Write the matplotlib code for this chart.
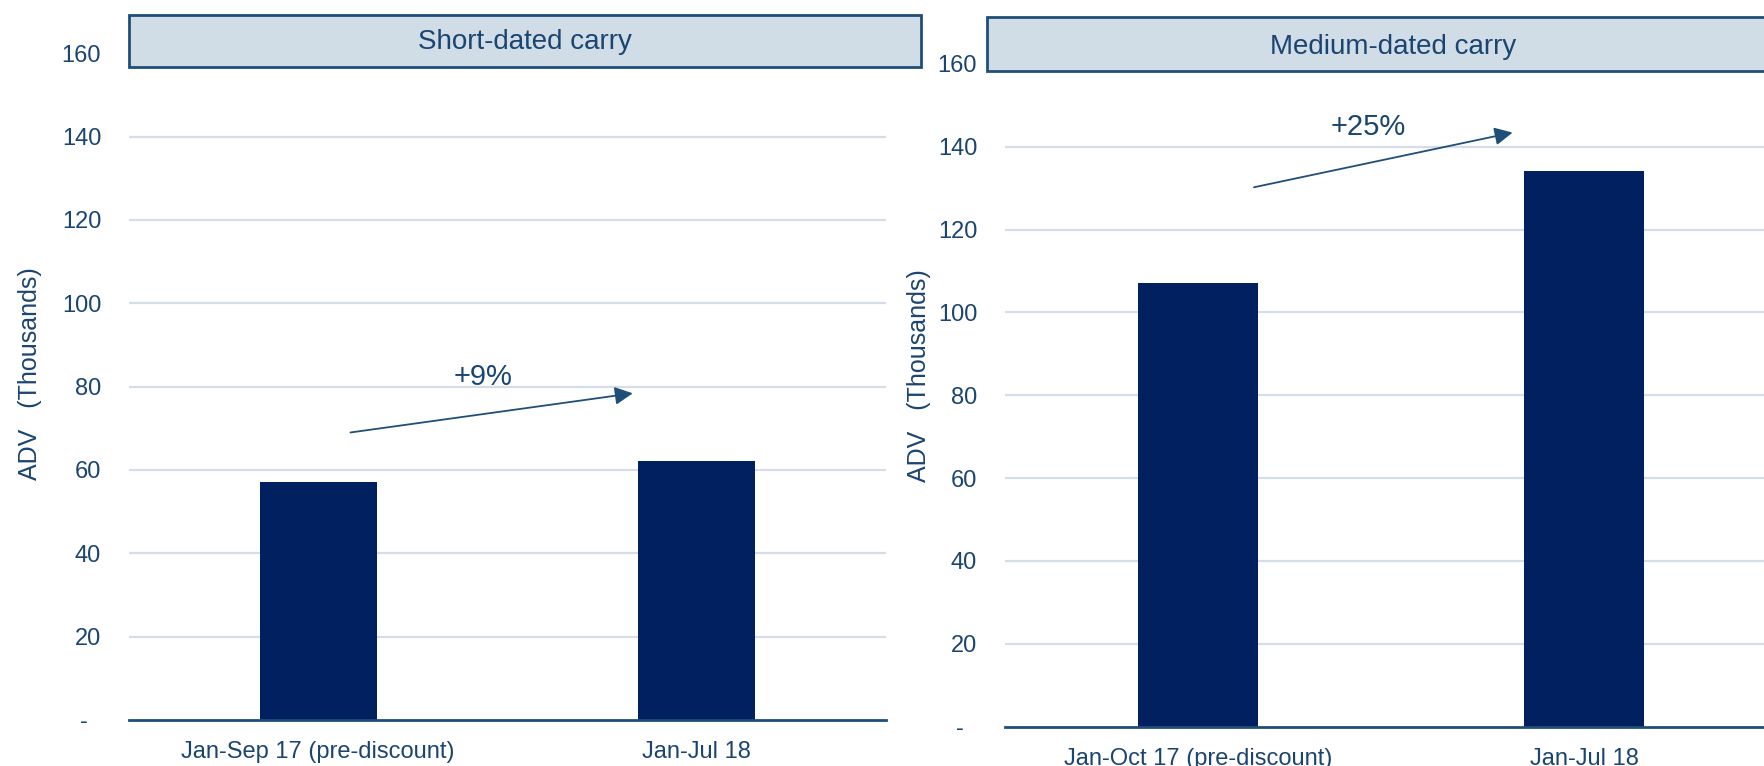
"""
Two-panel ADV comparison: short-dated vs medium-dated carry.
"""

import matplotlib

matplotlib.use("Agg")
import matplotlib.pyplot as plt
from matplotlib.patches import Rectangle

# data
SHORT_CATEGORIES = ["Jan-Sep 17 (pre-discount)", "Jan-Jul 18"]
SHORT_ADV = [57.2, 62.2]
SHORT_CHANGE = "+9%"

MEDIUM_CATEGORIES = ["Jan-Oct 17 (pre-discount)", "Jan-Jul 18"]
MEDIUM_ADV = [107.0, 134.2]
MEDIUM_CHANGE = "+25%"

Y_TICKS = [0, 20, 40, 60, 80, 100, 120, 140, 160]
Y_TICK_LABELS = ["-  ", "20", "40", "60", "80", "100", "120", "140", "160"]

# style
BAR_COLOR = "#002060"
TEXT_COLOR = "#1B4571"
GRID_COLOR = "#D5DEE8"
BOX_FILL = "#D0DCE6"
BOX_EDGE = "#1F4E79"
FONT = ["Liberation Sans", "DejaVu Sans"]

plt.rcParams["font.family"] = FONT

W, H = 1765, 766
fig = plt.figure(figsize=(W / 100, H / 100), dpi=100)


def px_box(left, right, top, bottom):
    """Convert pixel box (from top-left) to figure fraction rect."""
    return [left / W, (H - bottom) / H, (right - left) / W, (bottom - top) / H]


def draw_panel(ax, categories, values, label_xy):
    x = list(range(len(categories)))
    ax.bar(x, values, width=0.31, color=BAR_COLOR, zorder=3)
    ax.set_xlim(-0.5, 1.5)
    ax.set_ylim(0, 160)
    ax.set_yticks(Y_TICKS)
    ax.set_yticklabels(Y_TICK_LABELS)
    ax.set_xticks(x)
    ax.set_xticklabels(categories)
    for yv in Y_TICKS[1:-1]:
        ax.axhline(yv, color=GRID_COLOR, lw=1.6, zorder=1)
    for side in ["top", "right", "left"]:
        ax.spines[side].set_visible(False)
    ax.spines["bottom"].set_color(BOX_EDGE)
    ax.spines["bottom"].set_linewidth(2.0)
    ax.spines["bottom"].set_zorder(4)
    ax.tick_params(axis="y", length=0, pad=20, labelsize=17, labelcolor=TEXT_COLOR)
    ax.tick_params(axis="x", length=0, pad=15, labelsize=17, labelcolor=TEXT_COLOR)
    ax.set_ylabel("ADV   (Thousands)", fontsize=18, color=TEXT_COLOR)
    ax.yaxis.set_label_coords(*label_xy)


def draw_title_box(rect, label, text_xy):
    fig.patches.append(
        Rectangle(
            (rect[0], rect[1]), rect[2], rect[3],
            transform=fig.transFigure, facecolor=BOX_FILL,
            edgecolor=BOX_EDGE, linewidth=2.0, zorder=5,
        )
    )
    fig.text(text_xy[0] / W, 1 - text_xy[1] / H, label, ha="center", va="center",
             fontsize=20, color=TEXT_COLOR, zorder=6)


def draw_change(ax, start, end, text_pos, label):
    ax.annotate(
        "", xy=end, xytext=start,
        arrowprops=dict(arrowstyle="-|>", color=BOX_EDGE, lw=1.3,
                        mutation_scale=27, shrinkA=0, shrinkB=0),
        zorder=6,
    )
    ax.text(text_pos[0], text_pos[1], label, ha="center", va="center",
            fontsize=21, color=TEXT_COLOR, zorder=6)


# left panel
ax1 = fig.add_axes(px_box(129, 886, 53.3, 720))
draw_panel(ax1, SHORT_CATEGORIES, SHORT_ADV, (-0.115, 0.52))
draw_change(ax1, (0.085, 69.0), (0.831, 78.4), (0.436, 82.4), SHORT_CHANGE)

# right panel (runs past the right edge of the picture)
ax2 = fig.add_axes(px_box(1005, 1777, 63.8, 726.7))
draw_panel(ax2, MEDIUM_CATEGORIES, MEDIUM_ADV, (-0.096, 0.529))
draw_change(ax2, (0.145, 130.2), (0.815, 143.4), (0.44, 144.7), MEDIUM_CHANGE)

draw_title_box(px_box(129, 921, 15, 67), "Short-dated carry", (525, 41.7))
draw_title_box(px_box(987, 1800, 16.7, 71), "Medium-dated carry", (1393, 46.7))

fig.savefig("out.png", dpi=100)
plt.close(fig)
